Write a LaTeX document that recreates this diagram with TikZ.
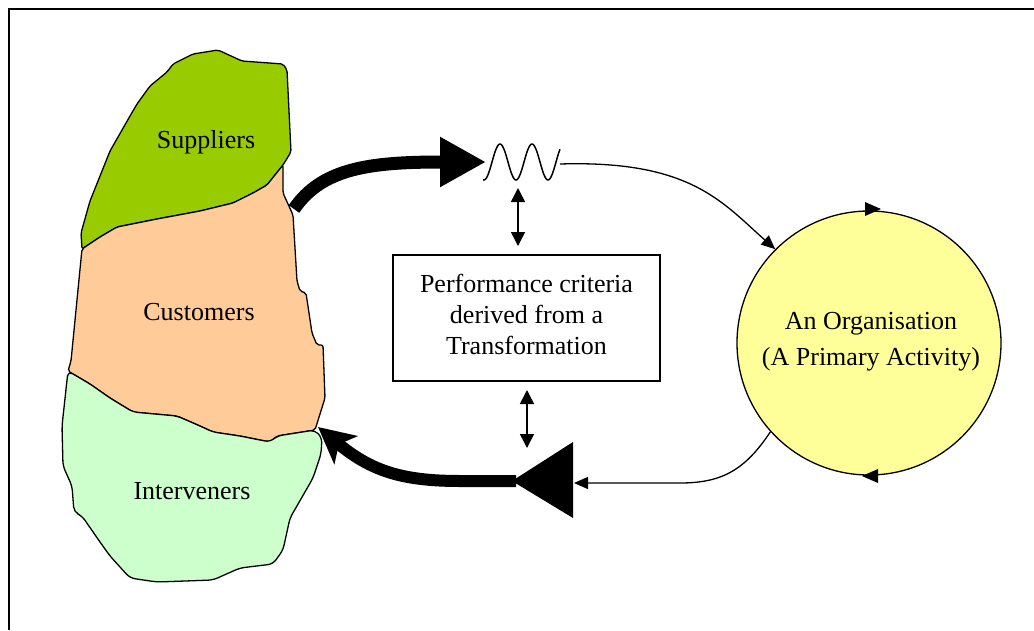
\documentclass[tikz,border=0pt]{standalone}
\usepackage{fontspec}
\setmainfont{Liberation Serif}
\usetikzlibrary{arrows.meta}
\definecolor{supgreen}{HTML}{99CC00}
\definecolor{cuspeach}{HTML}{FFCC99}
\definecolor{intmint}{HTML}{CCFFCC}
\definecolor{orgyellow}{HTML}{FFFF99}
\begin{document}
\begin{tikzpicture}[x=1pt,y=-1pt,
  lbl/.style={font=\fontsize{26}{31}\selectfont, inner sep=0pt},
  region/.style={draw=black, line width=1.3pt, line join=round, rounded corners=2pt},
  thinarrow/.style={line width=1.3pt, -{Triangle[length=14pt,width=12pt]}},
  dblarrow/.style={line width=1.5pt, {Triangle[length=14pt,width=14pt]}-{Triangle[length=14pt,width=14pt]}},
  marker/.style={fill=black}]
\useasboundingbox (0,0) rectangle (1034,630);
% frame
\draw[line width=2pt] (9,630) -- (9,9) -- (1034,9);

% blob regions
\filldraw[region, fill=supgreen] (82,249) -- (81,233) -- (90,201) -- (110,151) -- (130,116) -- (137,104) -- (150,86) -- (167,72) -- (173,64) -- (193,54) -- (218,50) -- (242,61) -- (283,64) -- (287,70) -- (291,152) -- (283,165) -- (267,185) -- (253,193) -- (233,203) -- (200,211) -- (157,219) -- (117,227) -- (100,237) -- cycle;
\filldraw[region, fill=cuspeach] (82,249) -- (100,237) -- (117,227) -- (157,219) -- (200,211) -- (233,203) -- (253,193) -- (267,185) -- (283,165) -- (283,193) -- (293,215) -- (297,281) -- (300,291) -- (306,293) -- (312,333) -- (317,345) -- (323,345) -- (325,398) -- (315,430) -- (277,436) -- (270,442) -- (240,436) -- (213,432) -- (200,426) -- (177,416) -- (133,412) -- (110,398) -- (90,384) -- (68,371) -- (71,361) -- cycle;
\filldraw[region, fill=intmint, rounded corners=5pt] (68,371) -- (90,384) -- (110,398) -- (133,412) -- (177,416) -- (200,426) -- (213,432) -- (240,436) -- (270,442) -- (277,436) -- (315,430) -- (322,438) -- (321,454) -- (313,478) -- (290,518) -- (283,550) -- (273,564) -- (240,568) -- (213,580) -- (157,582) -- (130,578) -- (110,556) -- (100,542) -- (82,516) -- (74,512) -- (72,486) -- (63,466) -- (62,426) -- cycle;

\node[lbl] (sup) at (206,142) {Suppliers};
\node[lbl] (cus) at (199,312) {Customers};
\node[lbl] (int) at (192,491) {Interveners};

% organisation circle
\node[circle, draw, line width=1.3pt, fill=orgyellow, minimum size=264pt, inner sep=0pt] (org) at (869,343) {};
\node[lbl, align=center, font=\fontsize{26}{36}\selectfont] (orgtext) at (871,342) {An Organisation\\(A Primary Activity)};
\fill[marker] (865,202) -- (881,209) -- (865,216) -- cycle;
\fill[marker] (878,469) -- (862,476) -- (878,483) -- cycle;

% criteria box
\node[draw, line width=1.3pt, minimum width=267pt, minimum height=126pt, inner sep=0pt] (crit) at (526.5,318) {};
\node[lbl, align=center] (crittext) at (526.5,314) {Performance criteria\\derived from a\\Transformation};

% thick forward arrow
\coordinate (fstart) at (294,209);
\coordinate (ftip) at (486,162);
\draw[line width=13pt, -{Triangle[length=46pt,width=47pt]}] (fstart) .. controls (322,168) and (370,162) .. (ftip);

% wave
\draw[line width=1.5pt, domain=483:560, samples=80, smooth] plot (\x, {162-18*sin((\x-492)*11.25)});

% thin forward connector
\coordinate (wend) at (560,164);
\draw[thinarrow] (wend) .. controls (690,160) and (722,202) .. (org.135);

% double arrows
\coordinate (d1a) at (518,188);
\coordinate (d1b) at (518,246);
\coordinate (d2a) at (527,390);
\coordinate (d2b) at (527,448);
\draw[dblarrow] (d1a) -- (d1b);
\draw[dblarrow] (d2a) -- (d2b);

% big return triangle
\coordinate (ttip) at (512,481);
\fill (573,442) -- (573,518) -- (ttip) -- cycle;

% thin return connector
\coordinate (tback) at (574,483);
\draw[thinarrow] (org.222) .. controls (745,470) and (722,483) .. (680,483) -- (tback);

% thick return arrow
\coordinate (rtip) at (318,427);
\draw[line width=12pt, -{Stealth[length=36pt,width=36pt,inset=9pt]}] ([xshift=4pt]ttip) -- (460,481) .. controls (400,481) and (370,470) .. (rtip);
\end{tikzpicture}
\end{document}
